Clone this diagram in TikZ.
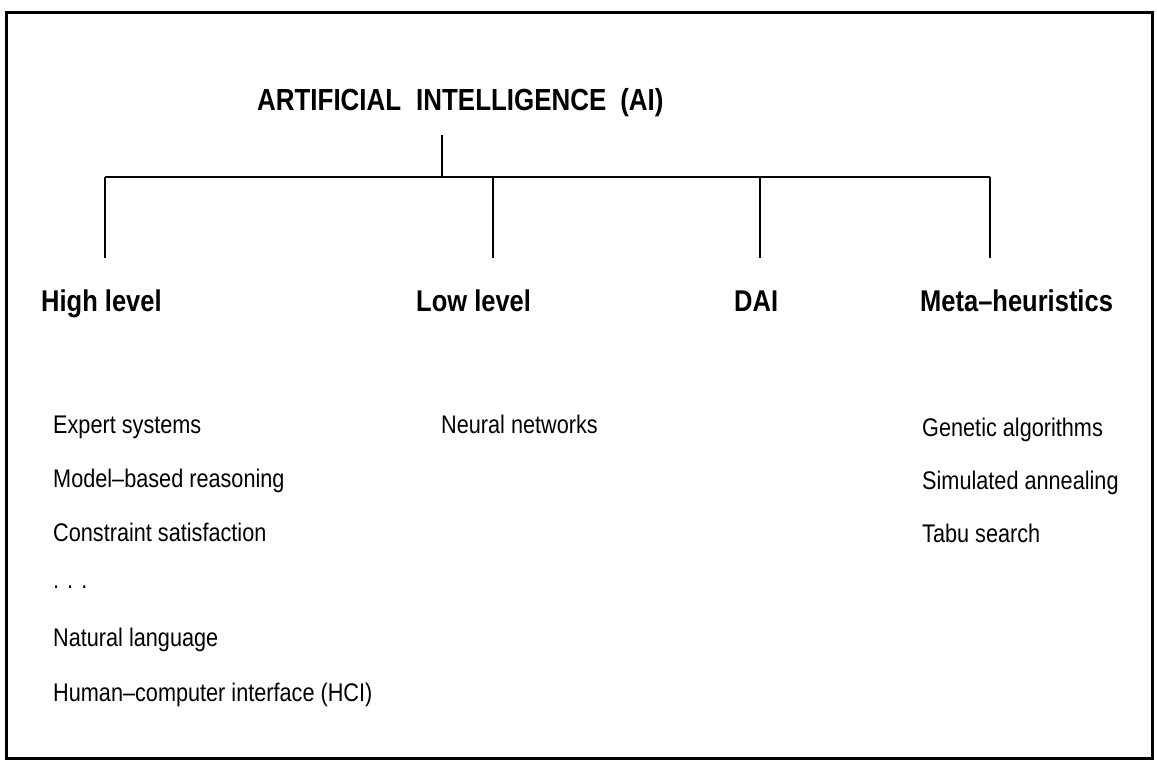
\documentclass[tikz,border=0pt]{standalone}
\usepackage{fontspec}
\setmainfont{Liberation Sans}[FakeStretch=0.85]
\begin{document}
\begin{tikzpicture}[x=1pt,y=-1pt,
  frame/.style={line width=3pt},
  tree/.style={line width=1.8pt},
  title/.style={anchor=base west,inner sep=0pt,font=\fontsize{30.5}{35}\selectfont\bfseries},
  head/.style={anchor=base west,inner sep=0pt,font=\fontsize{30}{35}\selectfont\bfseries},
  item/.style={anchor=base west,inner sep=0pt,font=\fontsize{25.5}{30}\selectfont}]
\useasboundingbox (0,0) rectangle (1157,764);
\draw[frame] (6,12) rectangle (1152,758);
% title
\node[title] (ai) at (257,110) {ARTIFICIAL\hspace{15pt}INTELLIGENCE\hspace{14pt}(AI)};
% tree
\coordinate (stem) at (442,135);
\coordinate (hub) at (442,177);
\coordinate (b1) at (105,177);
\coordinate (b2) at (493,177);
\coordinate (b3) at (760,177);
\coordinate (b4) at (990,177);
\coordinate (e1) at (105,258);
\coordinate (e2) at (493,258);
\coordinate (e3) at (760,258);
\coordinate (e4) at (990,258);
\draw[tree] (stem) -- (hub);
\draw[tree] (b1) -- (b4);
\draw[tree] (b1) -- (e1);
\draw[tree] (b2) -- (e2);
\draw[tree] (b3) -- (e3);
\draw[tree] (b4) -- (e4);
% headers
\node[head] (hl) at (41,311) {High level};
\node[head] (ll) at (416,311) {Low level};
\node[head] (dai) at (734,311) {DAI};
\node[head] (mh) at (920,311) {Meta--heuristics};
% items
\node[item] (i1) at (53,433) {Expert systems};
\node[item] (i2) at (53,487) {Model--based reasoning};
\node[item] (i3) at (53,541) {Constraint satisfaction};
\node[item] (i4) at (53,588) {. . .};
\node[item] (i5) at (53,646) {Natural language};
\node[item] (i6) at (53,701) {Human--computer interface (HCI)};
\node[item] (n1) at (441,433) {Neural networks};
\node[item] (m1) at (922,436) {Genetic algorithms};
\node[item] (m2) at (922,489) {Simulated annealing};
\node[item] (m3) at (922,542) {Tabu search};
\end{tikzpicture}
\end{document}
